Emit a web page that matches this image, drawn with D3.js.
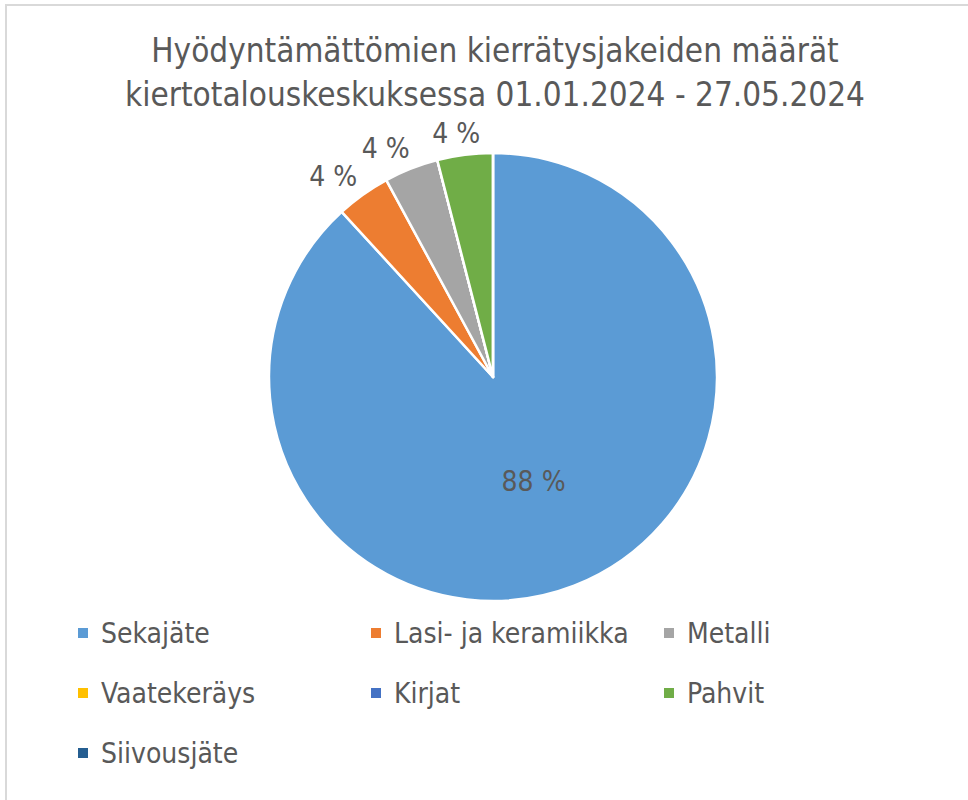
<!DOCTYPE html>
<html>
<head>
<meta charset="utf-8">
<script src="https://cdn.jsdelivr.net/npm/d3@7"></script>
<style>
  body { margin: 0; background: #fff; }
  text { font-family: "Liberation Sans Narrow", "DejaVu Sans Condensed", "Noto Sans", sans-serif; fill: #595959; }
</style>
</head>
<body>
<svg id="chart"></svg>
<script>
const titleLines = ['Hyödyntämättömien kierrätysjakeiden määrät', 'kiertotalouskeskuksessa 01.01.2024 - 27.05.2024'];
const categories = ['Sekajäte', 'Lasi- ja keramiikka', 'Metalli', 'Vaatekeräys', 'Kirjat', 'Pahvit', 'Siivousjäte'];
const values = [88.2, 3.9, 3.9, 0, 0, 4.0, 0];
const colors = ['#5b9bd5', '#ed7d31', '#a5a5a5', '#ffc000', '#4472c4', '#70ad47', '#255e91'];

const width = 968, height = 800;
const cx = 493, cy = 377, radius = 224;

const svg = d3.select('#chart')
    .attr('width', width)
    .attr('height', height);

// chart area border (only top/left visible in the crop)
svg.append('rect')
    .attr('x', 6).attr('y', 5)
    .attr('width', width + 20).attr('height', height + 20)
    .attr('fill', 'none')
    .attr('stroke', '#d9d9d9')
    .attr('stroke-width', 2);

svg.selectAll('.title')
    .data(titleLines)
    .join('text')
    .attr('class', 'title')
    .attr('x', 495)
    .attr('y', (d, i) => 62 + i * 44)
    .attr('text-anchor', 'middle')
    .style('font-size', '33px')
    .text(d => d);

const data = categories.map((c, i) => ({name: c, value: values[i], color: colors[i]}));
const total = d3.sum(values);

const pie = d3.pie().sort(null).value(d => d.value);
const arcs = pie(data);

const arc = d3.arc().innerRadius(0).outerRadius(radius);
const innerLabel = d3.arc().innerRadius(radius * 0.5).outerRadius(radius * 0.5);
const outerLabel = d3.arc().innerRadius(radius + 10).outerRadius(radius + 10);

const g = svg.append('g')
    .attr('transform', `translate(${cx}, ${cy})`);

g.selectAll('.slice')
    .data(arcs)
    .join('path')
    .attr('class', 'slice')
    .attr('d', arc)
    .attr('fill', d => d.data.color)
    .attr('stroke', '#fff')
    .attr('stroke-width', 2.5)
    .attr('stroke-linejoin', 'round');

// big slice: label inside; small slices: label box pushed out along the mid angle
g.selectAll('.label')
    .data(arcs.filter(d => d.value > 0))
    .join('text')
    .attr('class', 'label')
    .attr('text-anchor', 'middle')
    .attr('dy', '0.35em')
    .style('font-size', '28px')
    .text(d => Math.round(d.value / total * 100) + ' %')
    .attr('transform', function(d) {
        const big = (d.endAngle - d.startAngle) > Math.PI / 2;
        if (big) {
            const p = innerLabel.centroid(d);
            return `translate(${p[0]}, ${p[1]})`;
        }
        const p = outerLabel.centroid(d);
        const a = (d.startAngle + d.endAngle) / 2;
        const hw = this.getComputedTextLength() / 2;
        const hh = 12;
        const kx = Math.max(-1, Math.min(1, Math.sin(a) * 2.5));
        return `translate(${p[0] + kx * hw}, ${p[1] - Math.cos(a) * hh})`;
    });

// legend, 3 columns
const legendX = d3.scaleOrdinal().domain([0, 1, 2]).range([78, 371, 664]);
const legendY = d3.scaleOrdinal().domain([0, 1, 2]).range([633, 693, 753]);

const legend = svg.selectAll('.legend')
    .data(data)
    .join('g')
    .attr('class', 'legend')
    .attr('transform', (d, i) => `translate(${legendX(i % 3)}, ${legendY(Math.floor(i / 3))})`);

legend.append('rect')
    .attr('x', 0).attr('y', -5)
    .attr('width', 10).attr('height', 10)
    .attr('fill', d => d.color);

legend.append('text')
    .attr('x', 23)
    .attr('dy', '0.35em')
    .style('font-size', '28px')
    .text(d => d.name);
</script>
</body>
</html>
